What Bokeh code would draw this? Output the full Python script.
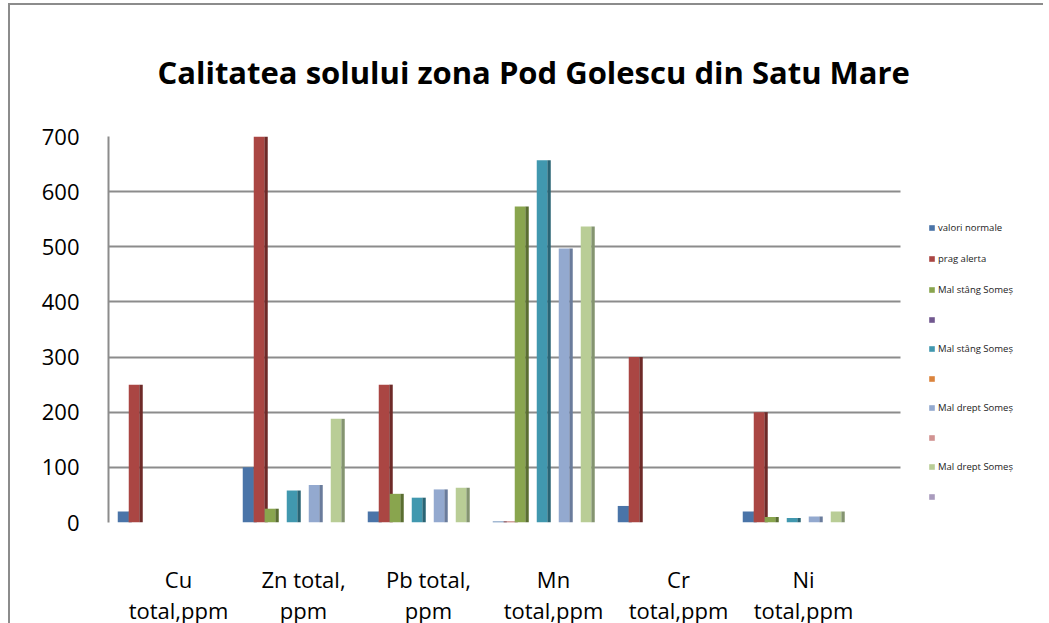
from bokeh.plotting import figure
from bokeh.models import (ColumnDataSource, Range1d, FixedTicker, Legend, LegendItem,
                          BoxAnnotation)
from bokeh.transform import dodge
from bokeh.embed import file_html
from bokeh.resources import INLINE

# ---------------- data ----------------
categories = ["Cu\ntotal,ppm", "Zn total,\nppm", "Pb total,\nppm",
              "Mn\ntotal,ppm", "Cr\ntotal,ppm", "Ni\ntotal,ppm"]
y_ticks = [0, 100, 200, 300, 400, 500, 600, 700]

valori_normale = [20, 100, 20, 2, 30, 20]
prag_alerta = [250, 700, 250, 2, 300, 200]
mal_stang_a = [None, 25, 52, 573, None, 10]
serie_goala_1 = [None, None, None, None, None, None]
mal_stang_b = [None, 58, 45, 657, None, 8]
serie_goala_2 = [None, None, None, None, None, None]
mal_drept_a = [None, 68, 60, 497, None, 11]
serie_goala_3 = [None, None, None, None, None, None]
mal_drept_b = [None, 188, 63, 537, None, 20]
serie_goala_4 = [None, None, None, None, None, None]

series_labels = ["valori normale", "prag alerta", "Mal stâng Someș", " ",
                 "Mal stâng Someș", " ", "Mal drept Someș", " ",
                 "Mal drept Someș", " "]
series_values = [valori_normale, prag_alerta, mal_stang_a, serie_goala_1,
                 mal_stang_b, serie_goala_2, mal_drept_a, serie_goala_3,
                 mal_drept_b, serie_goala_4]
front_colors = ["#4A74A8", "#AA4643", "#89A54E", "#71588F", "#4198AF",
                "#DB843D", "#93A9CF", "#D19392", "#B9CD96", "#A99BBD"]
side_colors = ["#2E4B70", "#6E2A28", "#5A6E31", "#4A395E", "#2A6474",
               "#905627", "#6A7C9C", "#8C5F5E", "#849470", "#72688A"]

FONT = "Open Sans"
X_START = -0.56
PLOT_END = 5.776

p = figure(frame_width=935, frame_height=386, output_backend="svg",
           toolbar_location=None,
           x_range=Range1d(X_START, X_START + 935 / 125.0), y_range=Range1d(0, 700),
           min_border_left=98, min_border_right=0, min_border_top=130,
           min_border_bottom=102)
p.styles = {"border-left": "2px solid #8c8c8c", "border-top": "2px solid #8c8c8c",
            "margin-left": "8px", "margin-top": "3px"}

p.title.text = "Calitatea solului zona Pod Golescu din Satu Mare"
p.title.text_font = FONT
p.title.text_font_size = "31px"
p.title.text_font_style = "bold"
p.title.align = "left"
p.title.offset = 49
p.title.standoff = 87
p.title.text_color = "#000000"

p.outline_line_color = None
p.background_fill_color = "white"
p.xgrid.grid_line_color = None
p.ygrid.grid_line_color = "#8c8c8c"
p.ygrid.grid_line_width = 2
p.ygrid.ticker = FixedTicker(ticks=y_ticks)

p.yaxis.ticker = FixedTicker(ticks=y_ticks)
p.yaxis.axis_line_color = "#8c8c8c"
p.yaxis.axis_line_width = 2
p.yaxis.major_tick_line_color = None
p.yaxis.minor_tick_line_color = None
p.yaxis.major_label_standoff = 23
p.yaxis.major_label_text_font = FONT
p.yaxis.major_label_text_font_size = "22px"
p.yaxis.major_label_text_color = "#000000"

p.xaxis.ticker = FixedTicker(ticks=list(range(len(categories))))
p.xaxis.major_label_overrides = {i: c for i, c in enumerate(categories)}
p.xaxis.axis_line_color = None
p.xaxis.major_tick_line_color = None
p.xaxis.minor_tick_line_color = None
p.xaxis.major_label_standoff = 35
p.xaxis.major_label_text_font = FONT
p.xaxis.major_label_text_font_size = "22px"
p.xaxis.major_label_text_line_height = 1.05
p.xaxis.major_label_text_color = "#000000"

slot = 0.088
front_w = 0.084
side_w = 0.028
items = []
for i, (lab, vals) in enumerate(zip(series_labels, series_values)):
    src = ColumnDataSource(dict(x=list(range(len(categories))),
                                top=[float("nan") if v is None else v for v in vals]))
    off = -0.444 + slot * i
    p.vbar(x=dodge("x", off + front_w / 2 + side_w / 2, range=p.x_range), top="top",
           bottom=0, width=side_w, source=src, fill_color=side_colors[i],
           line_color=None)
    r = p.vbar(x=dodge("x", off, range=p.x_range), top="top", bottom=0,
               width=front_w, source=src, fill_color=front_colors[i],
               line_color=None)
    items.append(LegendItem(label=lab, renderers=[r]))

# blank the area right of the plot (legend area), where Excel has no gridlines
p.add_layout(BoxAnnotation(left=PLOT_END, fill_color="white", fill_alpha=1.0,
                           line_color=None))

legend = Legend(items=items, location=(820, 21), orientation="vertical",
                glyph_width=7, glyph_height=7, label_height=10, spacing=18,
                label_standoff=3, padding=0, margin=0,
                label_text_font=FONT, label_text_font_size="9.5px",
                label_text_color="#222222", border_line_color=None,
                background_fill_alpha=0)
p.add_layout(legend, "center")

open("out.html", "w").write(file_html(p, INLINE))
